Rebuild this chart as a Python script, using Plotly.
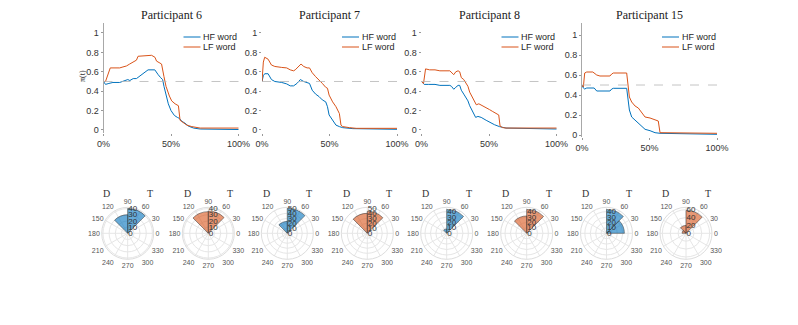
import plotly.graph_objects as go

# page body keeps its default 8px margin, so the figure is 8px smaller and all
# positions below are given in window pixels and shifted by OFF
OFF = 8
W, H = 798 - OFF, 325 - OFF

participants = ['Participant 6', 'Participant 7', 'Participant 8', 'Participant 15']
series_names = ['HF word', 'LF word']
pct_ticks = [0, 50, 100]
pct_labels = ['0%', '50%', '100%']
prob_ticks = [0, 0.2, 0.4, 0.6, 0.8, 1]
prob_labels = ['0', '0.2', '0.4', '0.6', '0.8', '1']

# --- time course, % of trial vs probability
p6_hf_x = [0, 1.5, 4, 7, 12, 14.4, 18, 19.5, 22, 24.4, 27, 29.4, 30.6, 33, 38, 39.3, 40.5, 42.3, 43.8, 44.8,
           46.3, 48, 50, 52.5, 54.7, 56.2, 58, 60.4, 62.9, 66.7, 71.6, 80, 100]
p6_hf = [0.50, 0.47, 0.48, 0.49, 0.49, 0.50, 0.52, 0.51, 0.53, 0.53, 0.56, 0.58, 0.60, 0.62, 0.62, 0.60, 0.57,
         0.54, 0.52, 0.45, 0.35, 0.27, 0.20, 0.15, 0.13, 0.12, 0.09, 0.07, 0.04, 0.02, 0.01, 0.007, 0.005]
p6_lf_x = [0, 1.5, 5, 12, 14.4, 17, 19.4, 22, 24.4, 25.6, 35.6, 38.1, 39.3, 41.8, 43, 44.8, 46.3, 48.8, 50.5,
           53, 55.5, 56.7, 59.2, 61.7, 65.4, 69.2, 71.6, 100]
p6_lf = [0.50, 0.50, 0.64, 0.64, 0.65, 0.66, 0.68, 0.70, 0.72, 0.76, 0.77, 0.75, 0.71, 0.69, 0.68, 0.55, 0.45,
         0.35, 0.30, 0.27, 0.25, 0.10, 0.07, 0.05, 0.035, 0.025, 0.02, 0.02]

p7_hf_x = [0, 1, 2, 4.5, 7, 9.5, 14.6, 18.3, 20.9, 23.4, 25.9, 28.4, 30.9, 33.4, 35.2, 37.2, 39.7, 42.2, 44.7,
           47.2, 48.5, 49.7, 52.3, 54.8, 57.3, 59.8, 67.3, 100]
p7_hf = [0.50, 0.56, 0.58, 0.58, 0.52, 0.50, 0.49, 0.475, 0.455, 0.455, 0.48, 0.52, 0.50, 0.49, 0.48, 0.41,
         0.37, 0.345, 0.31, 0.29, 0.24, 0.155, 0.10, 0.05, 0.035, 0.024, 0.014, 0.007]
p7_lf_x = [0, 1, 2, 4.5, 7, 9.5, 14.6, 18.3, 20.9, 23.4, 24.6, 27.1, 28.9, 30.9, 33.4, 35.2, 37.2, 39.7, 42.2,
           44.7, 47.2, 48.5, 49.7, 52.3, 54.8, 57.3, 58.5, 59.8, 64.8, 69.8, 100]
p7_lf = [0.50, 0.70, 0.75, 0.73, 0.67, 0.655, 0.645, 0.64, 0.62, 0.61, 0.62, 0.66, 0.68, 0.655, 0.64, 0.64,
         0.59, 0.55, 0.52, 0.48, 0.44, 0.43, 0.36, 0.29, 0.24, 0.17, 0.05, 0.035, 0.024, 0.017, 0.017]

p8_hf_x = [0, 2, 5, 10, 13.6, 21, 22.2, 23.9, 25.4, 27.1, 28.3, 29.5, 31.3, 34.4, 35.7, 38.1, 40.1, 41.8,
           44.2, 47.9, 50.4, 54, 57.7, 62.6, 100]
p8_hf = [0.50, 0.47, 0.47, 0.47, 0.46, 0.46, 0.45, 0.42, 0.44, 0.46, 0.46, 0.41, 0.37, 0.30, 0.25, 0.19, 0.13,
         0.14, 0.13, 0.10, 0.08, 0.055, 0.035, 0.02, 0.01]
p8_lf_x = [0, 1.5, 3, 6, 10, 13.6, 21, 22.2, 23.9, 25.4, 27.1, 28.3, 29.5, 31.3, 32.7, 34.4, 35.7, 38.1, 40.6,
           42.5, 45.5, 47.9, 50.4, 52.8, 55.3, 57.2, 58.2, 60, 62.6, 100]
p8_lf = [0.50, 0.48, 0.63, 0.62, 0.62, 0.61, 0.61, 0.59, 0.57, 0.60, 0.61, 0.60, 0.54, 0.52, 0.49, 0.45, 0.39,
         0.32, 0.26, 0.27, 0.25, 0.23, 0.21, 0.19, 0.17, 0.155, 0.04, 0.025, 0.02, 0.02]

p15_hf_x = [0, 1, 2, 3.5, 9, 10.9, 13.3, 20.7, 22, 23.2, 33.1, 33.6, 35.1, 36.8, 39.3, 41.7, 44.2, 46.7, 50.4,
            54.1, 57.8, 100]
p15_hf = [0.50, 0.47, 0.46, 0.47, 0.47, 0.44, 0.44, 0.44, 0.46, 0.467, 0.467, 0.42, 0.25, 0.18, 0.15, 0.117,
          0.09, 0.057, 0.043, 0.023, 0.017, 0.007]
p15_lf_x = [0, 1, 2, 3.5, 8, 10.9, 13.3, 20.7, 22, 23.2, 33.1, 33.6, 35.1, 36.8, 39.3, 41.7, 44.2, 46.7, 50.4,
            55.3, 56.5, 57.8, 62.7, 100]
p15_lf = [0.50, 0.48, 0.62, 0.63, 0.63, 0.60, 0.59, 0.59, 0.61, 0.62, 0.62, 0.55, 0.38, 0.33, 0.29, 0.27, 0.23,
          0.18, 0.17, 0.14, 0.14, 0.023, 0.023, 0.017]

# --- angular histograms (45 deg bins)
bin_centers = [22.5, 67.5, 112.5, 157.5, 202.5, 247.5, 292.5, 337.5]
angle_ticks = [0, 30, 60, 90, 120, 150, 180, 210, 240, 270, 300, 330]
p6_hf_hist = [0, 40, 30, 0, 0, 0, 0, 0]
p6_lf_hist = [0, 36, 35, 0, 0, 0, 0, 0]
p7_hf_hist = [0, 50, 24, 0, 0, 0, 0, 0]
p7_lf_hist = [0, 44, 40, 0, 0, 0, 0, 0]
p8_hf_hist = [0, 44, 8, 0, 0, 0, 0, 0]
p8_lf_hist = [0, 44, 32, 0, 0, 0, 0, 0]
p15_hf_hist = [33, 44, 0, 0, 0, 0, 0, 0]
p15_lf_hist = [0, 58, 20, 10, 0, 0, 0, 0]
radial_max = [42, 42, 52, 52, 48, 48, 48, 66]
radial_step = [10, 10, 10, 10, 10, 10, 10, 20]

BLUE = '#0072BD'
ORANGE = '#D95319'
BLUE_FILL = 'rgba(0,114,189,0.6)'
ORANGE_FILL = 'rgba(217,83,25,0.6)'
SANS = 'Liberation Sans'
SERIF = 'Liberation Serif'


def fx(x):
    return (x - OFF) / W


def fy(y):
    return 1 - (y - OFF) / H


def label(text, x, y, size, family=SANS, color='#333', anchor='center', angle=0):
    return dict(text=text, x=fx(x), y=fy(y), xref='paper', yref='paper', xanchor=anchor, yanchor='middle',
                showarrow=False, textangle=angle, font=dict(family=family, size=size, color=color))


lines = [(p6_hf_x, p6_hf, p6_lf_x, p6_lf),
         (p7_hf_x, p7_hf, p7_lf_x, p7_lf),
         (p8_hf_x, p8_hf, p8_lf_x, p8_lf),
         (p15_hf_x, p15_hf, p15_lf_x, p15_lf)]
lefts = [103.5, 262, 421.5, 582]
pxu = 1.35
xmax = 103

fig = go.Figure()
layout = dict(width=W, height=H, margin=dict(l=0, r=0, t=0, b=0, autoexpand=False),
              paper_bgcolor='white', plot_bgcolor='white', showlegend=False)
annotations = []
shapes = []

for k, (hx, hy, lx, ly) in enumerate(lines):
    n = '' if k == 0 else str(k + 1)
    fig.add_trace(go.Scatter(x=hx, y=hy, mode='lines', name='HF word', line=dict(color=BLUE, width=1),
                             xaxis='x' + n, yaxis='y' + n))
    fig.add_trace(go.Scatter(x=lx, y=ly, mode='lines', name='LF word', line=dict(color=ORANGE, width=1),
                             xaxis='x' + n, yaxis='y' + n))
    left = lefts[k]
    if k < 3:
        top, bot, yr = 23, 133, [-0.031, 1.103]
    else:
        top, bot, yr = 23, 137, [-0.02, 1.12]
    layout['xaxis' + n] = dict(domain=[fx(left), fx(left + xmax * pxu)], range=[0, xmax],
                               tickvals=pct_ticks, ticktext=pct_labels, showgrid=False, zeroline=False,
                               showline=False, ticks='outside', ticklen=2, tickcolor='#999',
                               tickfont=dict(family=SANS, size=9, color='#333'), anchor='y' + n)
    layout['yaxis' + n] = dict(domain=[fy(bot), fy(top)], range=yr, tickvals=prob_ticks, ticktext=prob_labels,
                               showgrid=False, zeroline=False, showline=(k in (0, 3)), linecolor='#a8a8a8',
                               linewidth=1, ticks='outside', ticklen=2, tickcolor='#999',
                               tickfont=dict(family=SANS, size=9, color='#333'), anchor='x' + n)
    shapes.append(dict(type='line', xref='x' + n + ' domain', x0=0, x1=1, yref='y' + n, y0=0.5, y1=0.5,
                       line=dict(color='#b5b5b5', width=0.8, dash='dash')))
    annotations.append(label(participants[k], left + 50 * pxu, 15, 12, family=SERIF, color='#222'))
    # legend box inside each panel
    for i, (name, col) in enumerate(zip(series_names, [BLUE, ORANGE])):
        ly_px = 37 + 10 * i
        shapes.append(dict(type='line', xref='paper', yref='paper', x0=fx(left + 80), x1=fx(left + 97),
                           y0=fy(ly_px), y1=fy(ly_px), line=dict(color=col, width=1)))
        annotations.append(label(name, left + 97.5, ly_px, 9, color='#262626', anchor='left'))

annotations.append(label('π(t)', 82, 76, 8, family=SERIF, angle=-90))

hists = [p6_hf_hist, p6_lf_hist, p7_hf_hist, p7_lf_hist, p8_hf_hist, p8_lf_hist, p15_hf_hist, p15_lf_hist]
centers = [127.7, 208.3, 287.3, 367.3, 446.7, 526.7, 606.5, 686]
cy, R = 233.3, 26

for j, hist in enumerate(hists):
    n = '' if j == 0 else str(j + 1)
    fill = BLUE_FILL if j % 2 == 0 else ORANGE_FILL
    fig.add_trace(go.Barpolar(r=hist, theta=bin_centers, width=45, subplot='polar' + n, showlegend=False,
                              marker=dict(color=fill, line=dict(color='#303030', width=0.5))))
    cx = centers[j]
    layout['polar' + n] = dict(
        domain=dict(x=[fx(cx - R), fx(cx + R)], y=[fy(cy + R), fy(cy - R)]),
        bgcolor='white',
        angularaxis=dict(rotation=0, direction='counterclockwise', tickmode='array', tickvals=angle_ticks,
                         ticktext=[str(a) for a in angle_ticks], ticks='',
                         tickfont=dict(family=SANS, size=7, color='#555'), gridcolor='#e6e6e6',
                         linecolor='#dddddd', showline=True),
        radialaxis=dict(range=[0, radial_max[j]], dtick=radial_step[j], angle=90, tickangle=90, ticks='',
                        showline=False, gridcolor='#e6e6e6',
                        tickfont=dict(family=SANS, size=8, color='#333')))
    annotations.append(label('D', cx - 21, 193, 10, family=SERIF))
    annotations.append(label('T', cx + 22, 193, 10, family=SERIF))

layout['annotations'] = annotations
layout['shapes'] = shapes
fig.update_layout(**layout)
fig.write_html('out.html')
